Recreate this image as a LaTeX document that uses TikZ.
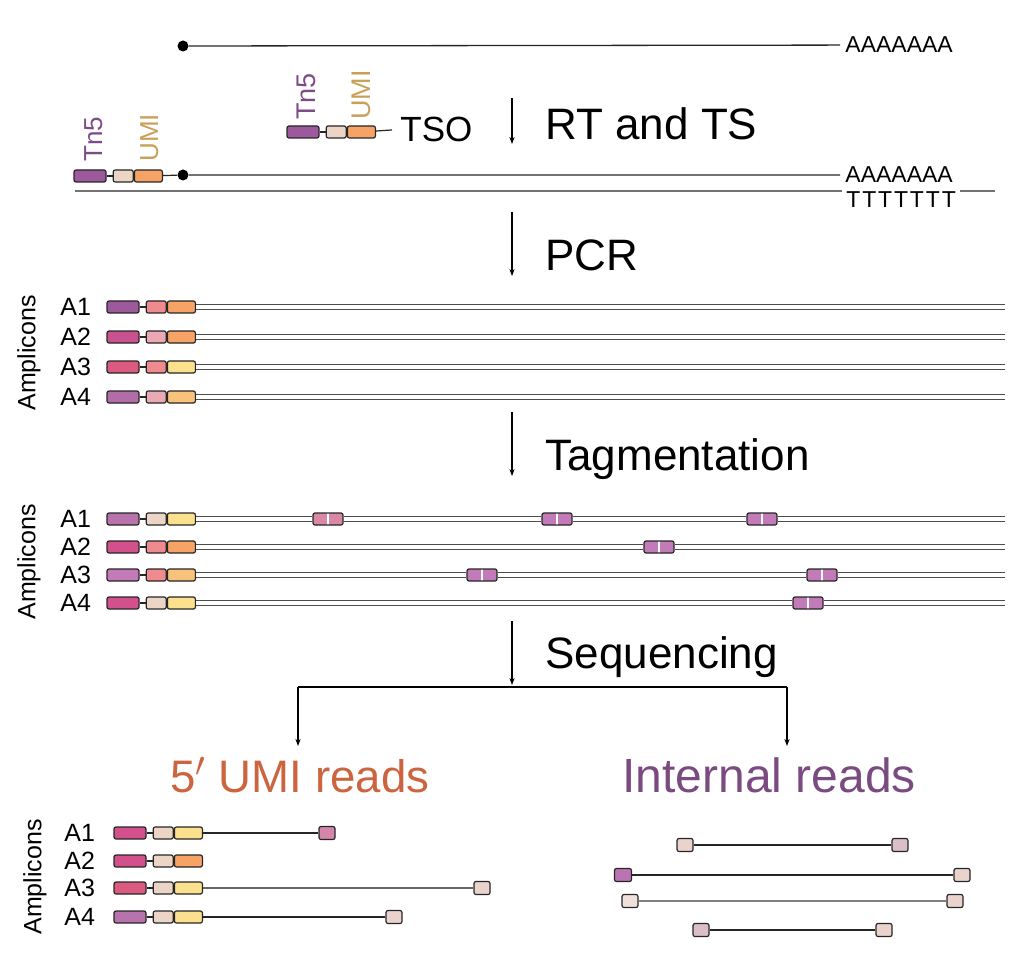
\documentclass[tikz,border=0pt]{standalone}
\usepackage{fontspec}
\setmainfont{Liberation Sans}
\usepackage{tikz}
\usetikzlibrary{arrows.meta,positioning}

\definecolor{cplum}{HTML}{9C5A9C}
\definecolor{corchid}{HTML}{B872AC}
\definecolor{cmauve}{HTML}{C27BB8}
\definecolor{cmagenta}{HTML}{D2508C}
\definecolor{crose}{HTML}{DA5A80}
\definecolor{cpinkish}{HTML}{D988A5}
\definecolor{cblush}{HTML}{EBA9B5}
\definecolor{csalmon}{HTML}{EF8A8F}
\definecolor{cbeige}{HTML}{ECD5C6}
\definecolor{corange}{HTML}{F7A365}
\definecolor{capricot}{HTML}{F9C27A}
\definecolor{cyellow}{HTML}{FBE08E}
\definecolor{readtan}{HTML}{EAD3CD}
\definecolor{readpink}{HTML}{DABFC6}
\definecolor{tnlabel}{HTML}{7E4A88}
\definecolor{umilabel}{HTML}{C9A05A}
\definecolor{umired}{HTML}{CC6440}
\definecolor{intpurple}{HTML}{7A4A80}

\tikzset{
    part/.style     = {draw=black!85, line width=0.6pt, rounded corners=1pt,
                       minimum height=6pt, inner sep=0pt},
    tnbox/.style    = {part, minimum width=16pt},
    bcbox/.style    = {part, minimum width=10pt},
    umibox/.style   = {part, minimum width=14pt},
    cutbox/.style   = {part, minimum width=15pt, path picture={
                       \draw[white, line width=0.7pt] (path picture bounding box.north)
                       -- (path picture bounding box.south);}},
    readend/.style  = {part, minimum width=8pt, minimum height=6.5pt},
    strand/.style   = {draw=black!70, line width=0.55pt, double=white, double distance=1.9pt},
    link/.style     = {draw=black!85, line width=0.6pt},
    thread/.style   = {draw=black!85, line width=0.65pt},
    flow/.style     = {draw, -{Stealth[length=3.5pt, width=2.6pt]}, line width=0.6pt},
    capdot/.style   = {circle, fill=black, inner sep=0pt, minimum size=5.5pt},
    rowlabel/.style = {inner sep=0pt, font=\fontsize{12.5}{15}\selectfont},
    ampl/.style     = {rotate=90, inner sep=0pt, font=\fontsize{12.5}{15}\selectfont},
    vlabel/.style   = {rotate=90, anchor=base west, inner sep=0pt, font=\fontsize{13.5}{16}\selectfont},
    tail/.style     = {inner xsep=2.5pt, inner ysep=0pt, font=\fontsize{11.5}{14}\selectfont},
    steplabel/.style= {anchor=base west, inner sep=0pt, font=\fontsize{22}{26}\selectfont},
    readhead/.style = {anchor=base west, inner sep=0pt}
}

\begin{document}
\begin{tikzpicture}[x=0.5pt, y=-0.5pt]
    \useasboundingbox (0,0) rectangle (1021,978);

    % mRNA
    \node [capdot]                          (cap0)   at (183,46)  {};
    \node [tail, anchor=base west]          (polyA0) at (840,53)  {AAAAAAA};
    \path [thread] (cap0) -- (polyA0.west);

    % TSO
    \node [tnbox, fill=cplum]               (tso5)   at (303,132) {};
    \node [bcbox, fill=cbeige, right=3pt of tso5]   (tsob) {};
    \node [umibox, fill=corange, right=0pt of tsob] (tsou) {};
    \node [anchor=base west, inner xsep=4pt, inner ysep=0pt,
           font=\fontsize{17.5}{20}\selectfont]  (tso)    at (392,142) {TSO};
    \path [link] (tso5) -- (tsob);
    \path [link] (tsou) -- (tso.west);
    \node [vlabel, text=tnlabel]            (tsolab5) at (315,120) {Tn5};
    \node [vlabel, text=umilabel]           (tsolabu) at (370,120) {UMI};

    % RT and TS product
    \node [tnbox, fill=cplum]               (rt5)    at (90,176)  {};
    \node [bcbox, fill=cbeige, right=3pt of rt5]    (rtb) {};
    \node [umibox, fill=corange, right=0pt of rtb]  (rtu) {};
    \node [capdot]                          (cap1)   at (183,175) {};
    \node [tail, anchor=base west]          (polyA1) at (840,183) {AAAAAAA};
    \node [tail, anchor=north west, inner xsep=2pt,
           font=\fontsize{11.5}{14}\selectfont\addfontfeature{LetterSpace=8}]
                                            (polyT)  at (842,191) {TTTTTTT};
    \coordinate                             (cdna0)  at (75,191);
    \coordinate                             (cdna1)  at (995,191);
    \node [vlabel, text=tnlabel, font=\fontsize{13}{16}\selectfont] (rtlab5) at (102,162) {Tn5};
    \node [vlabel, text=umilabel, font=\fontsize{13}{16}\selectfont] (rtlabu) at (158,162) {UMI};
    \path [link]   (rt5) -- (rtb);
    \path [link]   (rtu) -- (cap1);
    \path [thread] (cap1) -- (polyA1.west);
    \path [draw=black!55, line width=0.6pt] (cdna0) -- (polyT.north west);
    \path [draw=black!55, line width=0.6pt] (polyT.north east) -- (cdna1);

    % Steps
    \coordinate (rt0)  at (512,98);   \coordinate (rt1)  at (512,144);
    \coordinate (pcr0) at (512,212);  \coordinate (pcr1) at (512,276);
    \coordinate (tag0) at (512,412);  \coordinate (tag1) at (512,476);
    \coordinate (seq0) at (512,621);  \coordinate (seq1) at (512,685);
    \node [steplabel] (rtlab)  at (545,140) {RT and TS};
    \node [steplabel] (pcrlab) at (545,271) {PCR};
    \node [steplabel] (taglab) at (545,470) {Tagmentation};
    \node [steplabel] (seqlab) at (545,668) {Sequencing};
    \path [flow] (rt0)  -- (rt1);
    \path [flow] (pcr0) -- (pcr1);
    \path [flow] (tag0) -- (tag1);
    \path [flow] (seq0) -- (seq1);

    % PCR amplicons
    \node [ampl] (pcramp) at (29,353) {Amplicons};
    \node [tnbox, fill=cplum]                        (pa1t) at (123,307) {};
    \node [bcbox, fill=csalmon, right=3pt of pa1t]   (pa1b) {};
    \node [umibox, fill=corange, right=0pt of pa1b]  (pa1u) {};
    \node [tnbox, fill=cmagenta!80!cplum]            (pa2t) at (123,337) {};
    \node [bcbox, fill=cblush, right=3pt of pa2t]    (pa2b) {};
    \node [umibox, fill=corange, right=0pt of pa2b]  (pa2u) {};
    \node [tnbox, fill=crose]                        (pa3t) at (123,367) {};
    \node [bcbox, fill=csalmon, right=3pt of pa3t]   (pa3b) {};
    \node [umibox, fill=cyellow, right=0pt of pa3b]  (pa3u) {};
    \node [tnbox, fill=corchid!80!cplum]             (pa4t) at (123,397) {};
    \node [bcbox, fill=cblush, right=3pt of pa4t]    (pa4b) {};
    \node [umibox, fill=capricot, right=0pt of pa4b] (pa4u) {};
    \node [rowlabel, left=7.5pt of pa1t] (pa1l) {A1};
    \node [rowlabel, left=7.5pt of pa2t] (pa2l) {A2};
    \node [rowlabel, left=7.5pt of pa3t] (pa3l) {A3};
    \node [rowlabel, left=7.5pt of pa4t] (pa4l) {A4};
    \coordinate (pa1e) at (1005,307);
    \coordinate (pa2e) at (1005,337);
    \coordinate (pa3e) at (1005,367);
    \coordinate (pa4e) at (1005,397);
    \path [link]   (pa1t) -- (pa1b)  (pa2t) -- (pa2b)  (pa3t) -- (pa3b)  (pa4t) -- (pa4b);
    \path [strand] (pa1u) -- (pa1e);
    \path [strand] (pa2u) -- (pa2e);
    \path [strand] (pa3u) -- (pa3e);
    \path [strand] (pa4u) -- (pa4e);

    % Tagmented amplicons
    \node [ampl] (tagamp) at (29,562) {Amplicons};
    \node [tnbox, fill=corchid]                      (ta1t) at (123,519) {};
    \node [bcbox, fill=cbeige, right=3pt of ta1t]    (ta1b) {};
    \node [umibox, fill=cyellow, right=0pt of ta1b]  (ta1u) {};
    \node [tnbox, fill=cmagenta]                     (ta2t) at (123,547) {};
    \node [bcbox, fill=csalmon, right=3pt of ta2t]   (ta2b) {};
    \node [umibox, fill=corange, right=0pt of ta2b]  (ta2u) {};
    \node [tnbox, fill=cmauve]                       (ta3t) at (123,575) {};
    \node [bcbox, fill=csalmon, right=3pt of ta3t]   (ta3b) {};
    \node [umibox, fill=capricot, right=0pt of ta3b] (ta3u) {};
    \node [tnbox, fill=cmagenta]                     (ta4t) at (123,603) {};
    \node [bcbox, fill=cbeige, right=3pt of ta4t]    (ta4b) {};
    \node [umibox, fill=cyellow, right=0pt of ta4b]  (ta4u) {};
    \node [rowlabel, left=7.5pt of ta1t] (ta1l) {A1};
    \node [rowlabel, left=7.5pt of ta2t] (ta2l) {A2};
    \node [rowlabel, left=7.5pt of ta3t] (ta3l) {A3};
    \node [rowlabel, left=7.5pt of ta4t] (ta4l) {A4};
    \node [cutbox, fill=cpinkish] (ta1m1) at (328,519) {};
    \node [cutbox, fill=cmauve]   (ta1m2) at (557,519) {};
    \node [cutbox, fill=cmauve]   (ta1m3) at (762,519) {};
    \node [cutbox, fill=cmauve]   (ta2m1) at (659,547) {};
    \node [cutbox, fill=cmauve]   (ta3m1) at (482,575) {};
    \node [cutbox, fill=cmauve]   (ta3m2) at (822,575) {};
    \node [cutbox, fill=cmauve]   (ta4m1) at (808,603) {};
    \coordinate (ta1e) at (1005,519);
    \coordinate (ta2e) at (1005,547);
    \coordinate (ta3e) at (1005,575);
    \coordinate (ta4e) at (1005,603);
    \path [link]   (ta1t) -- (ta1b)  (ta2t) -- (ta2b)  (ta3t) -- (ta3b)  (ta4t) -- (ta4b);
    \path [strand] (ta1u) -- (ta1m1)  (ta1m1) -- (ta1m2)  (ta1m2) -- (ta1m3)  (ta1m3) -- (ta1e);
    \path [strand] (ta2u) -- (ta2m1)  (ta2m1) -- (ta2e);
    \path [strand] (ta3u) -- (ta3m1)  (ta3m1) -- (ta3m2)  (ta3m2) -- (ta3e);
    \path [strand] (ta4u) -- (ta4m1)  (ta4m1) -- (ta4e);

    % Split into read types
    \coordinate (lbr0) at (298,687);  \coordinate (lbr1) at (298,746);
    \coordinate (rbr0) at (787,687);  \coordinate (rbr1) at (787,746);
    \path [draw, line width=0.6pt] (lbr0) -- (rbr0);
    \path [flow] (lbr0) -- (lbr1);
    \path [flow] (rbr0) -- (rbr1);
    \node [readhead, text=umired, font=\fontsize{22.8}{27}\selectfont]
          (umihead) at (170,792) {5$'$ UMI reads};
    \node [readhead, text=intpurple, font=\fontsize{24}{28}\selectfont]
          (inthead) at (622,792) {Internal reads};

    % 5' UMI reads
    \node [ampl] (umiamp) at (35,877) {Amplicons};
    \node [tnbox, fill=cmagenta]                     (ua1t) at (130,833) {};
    \node [bcbox, fill=cbeige, right=3pt of ua1t]    (ua1b) {};
    \node [umibox, fill=cyellow, right=0pt of ua1b]  (ua1u) {};
    \node [tnbox, fill=cmagenta]                     (ua2t) at (130,861) {};
    \node [bcbox, fill=cbeige, right=3pt of ua2t]    (ua2b) {};
    \node [umibox, fill=corange, right=0pt of ua2b]  (ua2u) {};
    \node [tnbox, fill=crose]                        (ua3t) at (130,888) {};
    \node [bcbox, fill=cbeige, right=3pt of ua3t]    (ua3b) {};
    \node [umibox, fill=cyellow, right=0pt of ua3b]  (ua3u) {};
    \node [tnbox, fill=corchid]                      (ua4t) at (130,917) {};
    \node [bcbox, fill=cbeige, right=3pt of ua4t]    (ua4b) {};
    \node [umibox, fill=cyellow, right=0pt of ua4b]  (ua4u) {};
    \node [rowlabel, left=9pt of ua1t] (ua1l) {A1};
    \node [rowlabel, left=9pt of ua2t] (ua2l) {A2};
    \node [rowlabel, left=9pt of ua3t] (ua3l) {A3};
    \node [rowlabel, left=9pt of ua4t] (ua4l) {A4};
    \node [readend, fill=cpinkish!80!cmauve] (ua1e) at (327,833) {};
    \node [readend, fill=readtan]            (ua3e) at (482,888) {};
    \node [readend, fill=readtan]            (ua4e) at (394,917) {};
    \path [link] (ua1t) -- (ua1b)  (ua2t) -- (ua2b)  (ua3t) -- (ua3b)  (ua4t) -- (ua4b);
    \path [thread] (ua1u) -- (ua1e);
    \path [draw=black!60, line width=0.6pt] (ua3u) -- (ua3e);
    \path [thread] (ua4u) -- (ua4e);

    % Internal reads
    \node [readend, fill=readtan]  (ir1l) at (685,845) {};
    \node [readend, fill=readpink] (ir1r) at (900,845) {};
    \node [readend, fill=cmauve!80!cplum, minimum width=8.5pt] (ir2l) at (623,875) {};
    \node [readend, fill=readtan]  (ir2r) at (962,875) {};
    \node [readend, fill=readtan!70!white] (ir3l) at (630,901) {};
    \node [readend, fill=readtan]  (ir3r) at (955,901) {};
    \node [readend, fill=readpink] (ir4l) at (701,930) {};
    \node [readend, fill=readtan]  (ir4r) at (884,930) {};
    \path [thread] (ir1l) -- (ir1r);
    \path [thread] (ir2l) -- (ir2r);
    \path [draw=black!50, line width=0.6pt] (ir3l) -- (ir3r);
    \path [thread] (ir4l) -- (ir4r);

\end{tikzpicture}
\end{document}
